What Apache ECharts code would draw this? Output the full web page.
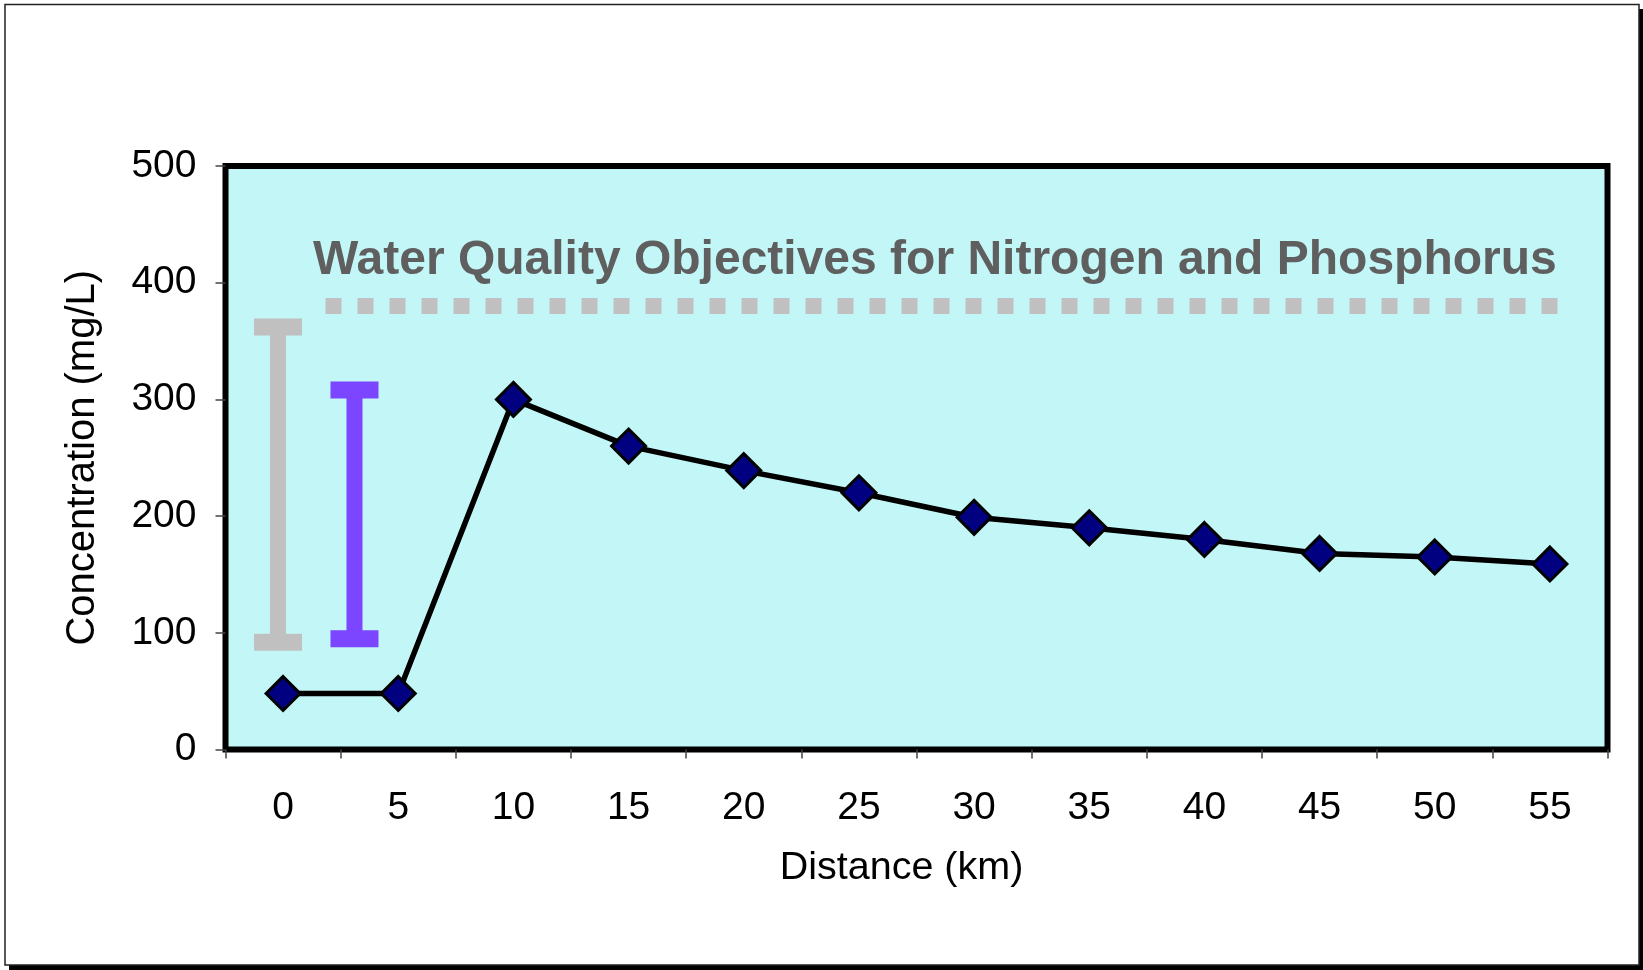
<!DOCTYPE html>
<html>
<head>
<meta charset="utf-8">
<script src="https://cdn.jsdelivr.net/npm/echarts@6/dist/echarts.min.js"></script>
<style>
html,body{margin:0;padding:0;background:#fff;}
#chart{width:1643px;height:970px;}
</style>
</head>
<body>
<div id="chart"></div>
<script>
// ---- data ----
const distances = ['0','5','10','15','20','25','30','35','40','45','50','55'];
const concentration = [48, 48, 300, 260, 239, 220, 199, 190, 180, 168, 165, 159];
const yTicks = [0, 100, 200, 300, 400, 500];
const chartTitle = 'Water Quality Objectives for Nitrogen and Phosphorus';
const xName = 'Distance (km)';
const yName = 'Concentration (mg/L)';
// objective line (distance km, mg/L) and range bars [distance, low, high]
const objectiveLine = [[1.84, 380], [55.33, 380]];
const rangeBarsGray = [[-0.22, 92, 362]];
const rangeBarsPurple = [[3.1, 95, 308]];

const FONT = "'Liberation Sans', Arial, sans-serif";
const chart = echarts.init(document.getElementById('chart'));

function iBeam(color) {
  return function (params, api) {
    const top = api.coord([api.value(0), api.value(2)]);
    const bot = api.coord([api.value(0), api.value(1)]);
    const cx = top[0];
    const style = { fill: color };
    return {
      type: 'group',
      children: [
        { type: 'rect', shape: { x: cx - 8, y: top[1], width: 16, height: bot[1] - top[1] }, style },
        { type: 'rect', shape: { x: cx - 24, y: top[1] - 8.5, width: 48, height: 17 }, style },
        { type: 'rect', shape: { x: cx - 24, y: bot[1] - 8.5, width: 48, height: 17 }, style }
      ]
    };
  };
}

const option = {
  animation: false,
  backgroundColor: '#ffffff',
  graphic: [
    { type: 'rect', z: -20, silent: true, shape: { x: 9, y: 9, width: 1640, height: 965 }, style: { fill: '#000' } },
    { type: 'rect', z: -19, silent: true, shape: { x: 5, y: 4.5, width: 1634, height: 960.5 }, style: { fill: '#fff', stroke: '#222', lineWidth: 1.5 } }
  ],
  title: {
    text: chartTitle,
    left: 313,
    top: 237,
    padding: 0,
    textStyle: { fontFamily: FONT, fontSize: 48, fontWeight: 'bold', color: '#5F5F5F' }
  },
  grid: {
    left: 225.5, top: 166, width: 1382, height: 583.5,
    show: true, backgroundColor: '#C3F6F6', borderColor: '#000', borderWidth: 6
  },
  xAxis: [
    {
      type: 'category',
      data: distances,
      boundaryGap: true,
      axisLine: { show: false, onZero: false },
      axisTick: { show: true, length: 9, lineStyle: { color: '#444', width: 1.5 } },
      axisLabel: { fontFamily: FONT, fontSize: 39, color: '#000', margin: 39 },
      name: xName,
      nameLocation: 'middle',
      nameGap: 99,
      nameTextStyle: { fontFamily: FONT, fontSize: 39.5, color: '#000', padding: [0, 30, 0, 0] },
      splitLine: { show: false }
    },
    {
      type: 'value', min: -2.5, max: 57.5, show: false,
      axisLine: { onZero: false }
    }
  ],
  yAxis: {
    type: 'value',
    min: yTicks[0], max: yTicks[yTicks.length - 1], interval: 100,
    position: 'left',
    axisLine: { show: false, onZero: false },
    axisTick: { show: true, length: 10, lineStyle: { color: '#444', width: 1.5 } },
    axisLabel: { fontFamily: FONT, fontSize: 39, color: '#000', margin: 29 },
    splitLine: { show: false },
    name: yName,
    nameLocation: 'middle',
    nameGap: 123,
    nameTextStyle: { fontFamily: FONT, fontSize: 40, color: '#000' }
  },
  series: [
    {
      type: 'line',
      xAxisIndex: 1,
      data: objectiveLine,
      symbol: 'none',
      z: 3,
      lineStyle: { color: '#C0C0C0', width: 16, type: [16, 16], cap: 'butt' }
    },
    {
      type: 'custom',
      xAxisIndex: 1,
      data: rangeBarsGray,
      renderItem: iBeam('#C0C0C0'),
      z: 3
    },
    {
      type: 'custom',
      xAxisIndex: 1,
      data: rangeBarsPurple,
      renderItem: iBeam('#7C45FF'),
      z: 3
    },
    {
      type: 'line',
      xAxisIndex: 0,
      data: concentration,
      symbol: 'diamond',
      symbolSize: 34,
      z: 5,
      lineStyle: { color: '#000', width: 5.5 },
      itemStyle: { color: '#000080', borderColor: '#000', borderWidth: 3 }
    }
  ]
};
chart.setOption(option);
</script>
</body>
</html>
